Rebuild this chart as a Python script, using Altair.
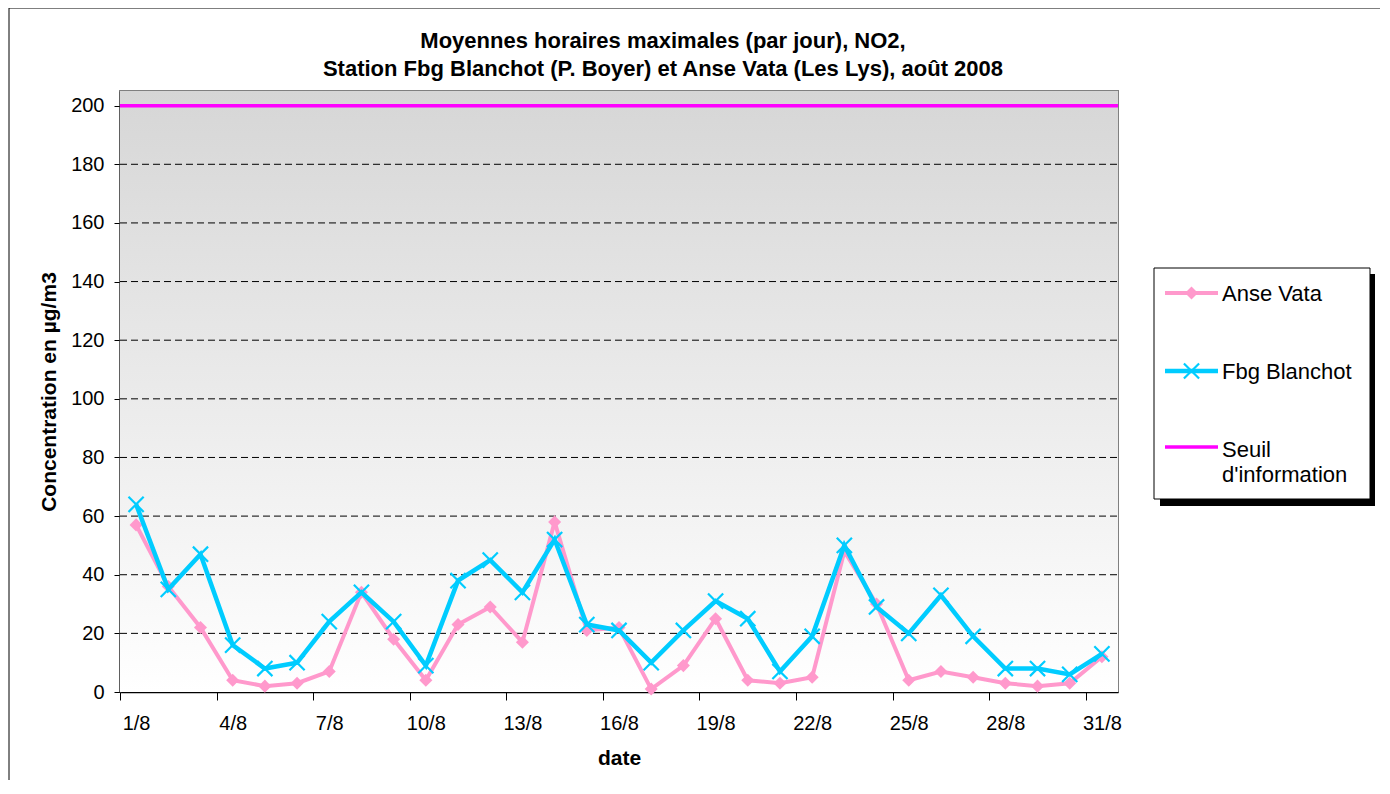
import altair as alt
import pandas as pd

# ---------------- data ----------------
days = list(range(1, 32))
anse_vata = [57, 36, 22, 4, 2, 3, 7, 34, 18, 4, 23, 29, 17, 58, 21, 22, 1, 9, 25, 4,
             3, 5, 48, 30, 4, 7, 5, 3, 2, 3, 12]
fbg_blanchot = [64, 35, 47, 16, 8, 10, 24, 34, 24, 9, 38, 45, 34, 52, 23, 21, 10, 21, 31, 25,
                7, 19, 50, 29, 20, 33, 19, 8, 8, 6, 13]
seuil = [200]
series_names = ["Anse Vata", "Fbg Blanchot", "Seuil d'information"]
title_lines = ["Moyennes horaires maximales (par jour), NO2,",
               "Station Fbg Blanchot (P. Boyer) et Anse Vata (Les Lys), août 2008"]
y_title = "Concentration en µg/m3"
x_title = "date"
y_ticks = list(range(0, 201, 20))
x_tick_pos = [0.5 + 3 * k for k in range(11)]

# ---------------- layout ----------------
W, H = 998, 601
FONT = "Liberation Sans"
PINK = "#FF99CC"
CYAN = "#00CCFF"
MAGENTA = "#FF00FF"

df_av = pd.DataFrame({"day": days, "value": anse_vata})
df_fb = pd.DataFrame({"day": days, "value": fbg_blanchot})
df_s = pd.DataFrame({"value": seuil})
df_grid = pd.DataFrame({"value": y_ticks[1:]})
one = pd.DataFrame({"a": [0]})

xscale = alt.Scale(domain=[0.5, 31.5], nice=False, zero=False, padding=0)
yscale = alt.Scale(domain=[0, 205], nice=False, zero=True)

X = alt.X("day:Q", scale=xscale,
          axis=alt.Axis(values=x_tick_pos,
                        labelExpr="(datum.value + 0.5) + '/8'",
                        labelOffset=W / 31 / 2, labelFlush=False,
                        grid=False, tickSize=8, tickColor="black", tickWidth=1,
                        domainColor="black", domainWidth=1.5,
                        labelFont=FONT, labelFontSize=20, labelColor="black",
                        labelPadding=13,
                        title=x_title, titleFont=FONT, titleFontSize=21,
                        titleFontWeight="bold", titleColor="black", titlePadding=14))
Y = alt.Y("value:Q", scale=yscale,
          axis=alt.Axis(values=y_ticks, grid=False,
                        tickSize=6, tickColor="black", tickWidth=1,
                        domainColor="#404040", domainWidth=2,
                        labelFont=FONT, labelFontSize=20, labelColor="black",
                        labelPadding=10,
                        title=y_title, titleFont=FONT, titleFontSize=21,
                        titleFontWeight="bold", titleColor="black", titlePadding=11))

gradient = {
    "gradient": "linear", "x1": 0, "y1": 0, "x2": 0, "y2": 1,
    "stops": [{"offset": 0, "color": "#d6d6d6"}, {"offset": 1, "color": "#ffffff"}],
}

base1 = alt.Chart(one)

background = base1.mark_rect(color=gradient, opacity=1).encode(
    x=alt.value(0), x2=alt.value(W), y=alt.value(0), y2=alt.value(H))

grid = alt.Chart(df_grid).mark_rule(color="black", strokeWidth=1,
                                    strokeDash=[7, 4]).encode(
    y=Y, x=alt.value(0), x2=alt.value(W))

seuil_line = alt.Chart(df_s).mark_rule(color=MAGENTA, strokeWidth=3.5).encode(
    y=Y, x=alt.value(0), x2=alt.value(W))

av_line = alt.Chart(df_av).mark_line(color=PINK, strokeWidth=4).encode(x=X, y=Y)
av_pts = alt.Chart(df_av).mark_point(shape="diamond", filled=True, size=170,
                                     color=PINK, opacity=1).encode(x=X, y=Y)
fb_line = alt.Chart(df_fb).mark_line(color=CYAN, strokeWidth=4.5).encode(x=X, y=Y)
fb_pts = alt.Chart(df_fb).mark_point(shape="M-1,-1L1,1M1,-1L-1,1", filled=False,
                                     size=230, color=CYAN, strokeWidth=2.2,
                                     opacity=1).encode(x=X, y=Y)

# ---------------- decorations ----------------
frame = [
    base1.mark_rule(color="black", strokeWidth=1).encode(
        x=alt.value(-111), y=alt.value(-83), y2=alt.value(720)),
    base1.mark_rule(color="black", strokeWidth=1).encode(
        x=alt.value(-111), x2=alt.value(1262), y=alt.value(-83)),
    base1.mark_rule(color="black", strokeWidth=1.5).encode(
        x=alt.value(1262), y=alt.value(-83), y2=alt.value(720)),
]

titles = [
    base1.mark_text(font=FONT, fontSize=22, fontWeight="bold", color="black",
                    align="center", baseline="alphabetic").encode(
        x=alt.value(543), y=alt.value(-43), text=alt.value(title_lines[0])),
    base1.mark_text(font=FONT, fontSize=22, fontWeight="bold", color="black",
                    align="center", baseline="alphabetic").encode(
        x=alt.value(543), y=alt.value(-15), text=alt.value(title_lines[1])),
]

legend = [
    base1.mark_rect(color="black", opacity=1).encode(
        x=alt.value(1040), x2=alt.value(1255), y=alt.value(183), y2=alt.value(415)),
    base1.mark_rect(fill="white", stroke="black", strokeWidth=1, opacity=1).encode(
        x=alt.value(1034), x2=alt.value(1250), y=alt.value(177), y2=alt.value(408)),
    base1.mark_rule(color=PINK, strokeWidth=4).encode(
        x=alt.value(1045), x2=alt.value(1098), y=alt.value(202)),
    base1.mark_point(shape="diamond", filled=True, size=170, color=PINK, opacity=1).encode(
        x=alt.value(1071.5), y=alt.value(202)),
    base1.mark_rule(color=CYAN, strokeWidth=4.5).encode(
        x=alt.value(1045), x2=alt.value(1098), y=alt.value(280)),
    base1.mark_point(shape="M-1,-1L1,1M1,-1L-1,1", filled=False, size=230, color=CYAN,
                     strokeWidth=2.2, opacity=1).encode(
        x=alt.value(1071.5), y=alt.value(280)),
    base1.mark_rule(color=MAGENTA, strokeWidth=3.5).encode(
        x=alt.value(1045), x2=alt.value(1098), y=alt.value(356)),
    base1.mark_text(font=FONT, fontSize=22, color="black", align="left",
                    baseline="alphabetic").encode(
        x=alt.value(1102), y=alt.value(210), text=alt.value(series_names[0])),
    base1.mark_text(font=FONT, fontSize=22, color="black", align="left",
                    baseline="alphabetic").encode(
        x=alt.value(1102), y=alt.value(288), text=alt.value(series_names[1])),
    base1.mark_text(font=FONT, fontSize=22, color="black", align="left",
                    baseline="alphabetic", lineBreak="\n", lineHeight=25).encode(
        x=alt.value(1102), y=alt.value(366),
        text=alt.value(series_names[2].replace(" ", "\n"))),
]

chart = alt.layer(
    background, grid, seuil_line, av_line, av_pts, fb_line, fb_pts,
    *frame, *titles, *legend
).properties(
    width=W, height=H,
    autosize=alt.AutoSizeParams(type="none"),
    padding={"left": 112, "top": 83, "right": 262, "bottom": 88},
    background="white",
).configure_view(
    stroke="#808080", strokeWidth=2
)

chart.save("out.html", embed_options={"renderer": "svg", "actions": False})
